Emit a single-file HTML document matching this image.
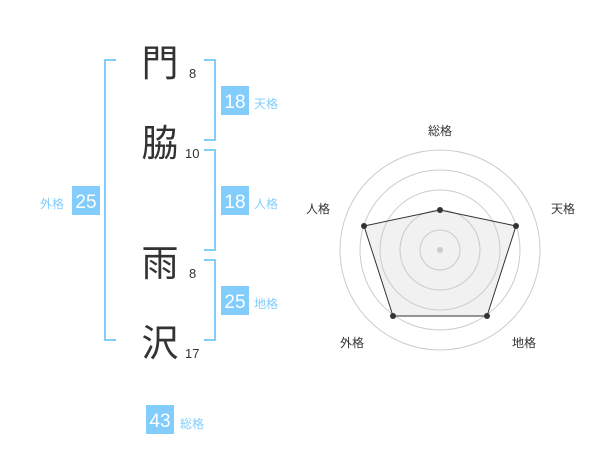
<!DOCTYPE html>
<html><head><meta charset="utf-8"><style>
body{margin:0;width:600px;height:470px;background:#fff;overflow:hidden;font-family:"Liberation Sans","Noto Sans CJK JP",sans-serif}
</style></head><body>
<svg width="600" height="470" xmlns="http://www.w3.org/2000/svg" style="position:absolute;left:0;top:0">
<g fill="none" stroke="#82cdfc" stroke-width="2">
<polyline points="116,60 105,60 105,340 116,340"/>
<polyline points="204,60 215,60 215,140 204,140"/>
<polyline points="204,150 215,150 215,250 204,250"/>
<polyline points="204,260 215,260 215,340 204,340"/>
</g>
<g font-family="Liberation Sans,Noto Sans CJK JP,sans-serif" fill="#333">
<text x="160" y="76" font-size="37" text-anchor="middle">門</text>
<text x="160" y="156" font-size="37" text-anchor="middle">脇</text>
<text x="160" y="276" font-size="37" text-anchor="middle">雨</text>
<text x="160" y="356" font-size="37" text-anchor="middle">沢</text>
<text x="189" y="78" font-size="13">8</text>
<text x="185" y="158" font-size="13">10</text>
<text x="189" y="278" font-size="13">8</text>
<text x="185" y="358" font-size="13">17</text>
</g>
<g fill="#82cdfc">
<rect x="221" y="86" width="28" height="29"/>
<rect x="221" y="186" width="28" height="29"/>
<rect x="221" y="286" width="28" height="29"/>
<rect x="72" y="186" width="28" height="29"/>
<rect x="146" y="405" width="28" height="29"/>
</g>
<g fill="#fff" font-size="19" text-anchor="middle" font-family="Liberation Sans,sans-serif">
<text x="235" y="108">18</text><text x="235" y="208">18</text><text x="235" y="308">25</text>
<text x="86" y="208">25</text><text x="160" y="427">43</text>
</g>
<g fill="#82cdfc" font-size="12" font-family="Liberation Sans,Noto Sans CJK JP,sans-serif">
<text x="254" y="108">天格</text><text x="254" y="208">人格</text><text x="254" y="308">地格</text>
<text x="40" y="208">外格</text><text x="180" y="428">総格</text>
</g>
<g fill="none" stroke="#ccc" stroke-width="1">
<circle cx="440" cy="250" r="20"/><circle cx="440" cy="250" r="40"/><circle cx="440" cy="250" r="60"/><circle cx="440" cy="250" r="80"/><circle cx="440" cy="250" r="100"/>
</g>
<polygon points="440,210 516,226 487,316 393,316 364,226" fill="rgba(200,200,200,0.25)" stroke="#333" stroke-width="1"/>
<circle cx="440" cy="250" r="3" fill="#ccc"/>
<g fill="#333">
<circle cx="440" cy="210" r="3"/><circle cx="516" cy="226" r="3"/><circle cx="487" cy="316" r="3"/><circle cx="393" cy="316" r="3"/><circle cx="364" cy="226" r="3"/>
</g>
<g fill="#333" font-size="12" text-anchor="middle" font-family="Liberation Sans,Noto Sans CJK JP,sans-serif">
<text x="440" y="135">総格</text><text x="563" y="213">天格</text><text x="524" y="347">地格</text><text x="352" y="347">外格</text><text x="318" y="213">人格</text>
</g>
</svg>
</body></html>
